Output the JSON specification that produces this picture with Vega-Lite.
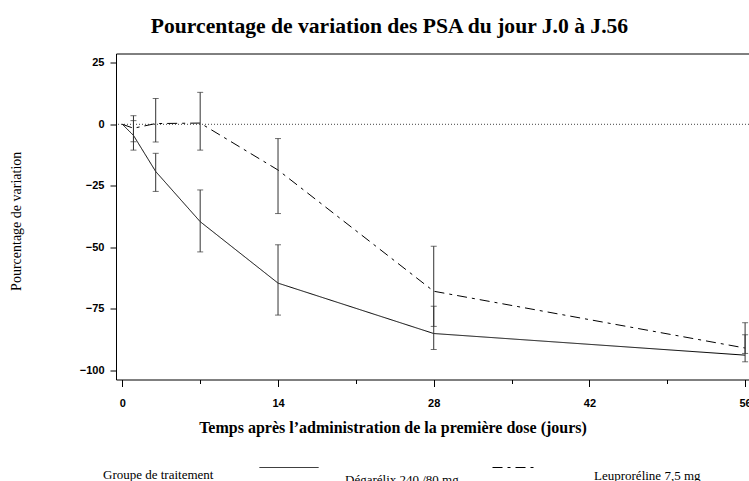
{
  "$schema": "https://vega.github.io/schema/vega-lite/v6.json",
  "autosize": {"type": "none"},
  "width": 633,
  "height": 326,
  "padding": {"left": 116, "top": 53.5, "right": 0, "bottom": 101.5},
  "background": "white",
  "config": {"view": {"stroke": "black", "strokeWidth": 1}},
  "title": {"text": "Pourcentage de variation des PSA du jour J.0 à J.56", "font": "Liberation Serif", "fontSize": 21.6, "fontWeight": "bold", "color": "black", "anchor": "middle", "dx": -43, "offset": 16},
  "datasets": {
    "psa": [
      {"group": "Dégarélix 240 /80 mg", "day": 0, "mean": 0, "lo": null, "hi": null},
      {"group": "Dégarélix 240 /80 mg", "day": 1, "mean": -4.5, "lo": -10.5, "hi": 1.5},
      {"group": "Dégarélix 240 /80 mg", "day": 3, "mean": -19.2, "lo": -27.3, "hi": -11.8},
      {"group": "Dégarélix 240 /80 mg", "day": 7, "mean": -39.6, "lo": -51.9, "hi": -26.7},
      {"group": "Dégarélix 240 /80 mg", "day": 14, "mean": -64.6, "lo": -77.6, "hi": -49.0},
      {"group": "Dégarélix 240 /80 mg", "day": 28, "mean": -85.1, "lo": -91.6, "hi": -74.0},
      {"group": "Dégarélix 240 /80 mg", "day": 56, "mean": -93.9, "lo": -96.6, "hi": -85.6},
      {"group": "Leuproréline 7,5 mg", "day": 0, "mean": 0, "lo": null, "hi": null},
      {"group": "Leuproréline 7,5 mg", "day": 1, "mean": -1.6, "lo": -7.1, "hi": 3.5},
      {"group": "Leuproréline 7,5 mg", "day": 3, "mean": 0.3, "lo": -7.2, "hi": 10.5},
      {"group": "Leuproréline 7,5 mg", "day": 7, "mean": 0.5, "lo": -10.5, "hi": 13.0},
      {"group": "Leuproréline 7,5 mg", "day": 14, "mean": -18.6, "lo": -36.3, "hi": -5.8},
      {"group": "Leuproréline 7,5 mg", "day": 28, "mean": -67.9, "lo": -82.2, "hi": -49.6},
      {"group": "Leuproréline 7,5 mg", "day": 56, "mean": -91.0, "lo": -93.2, "hi": -80.7}
    ],
    "ref": [{"zero": 0}]
  },
  "layer": [
    {
      "data": {"name": "psa"},
      "transform": [{"filter": "datum.group === 'Dégarélix 240 /80 mg'"}],
      "mark": {"type": "line", "color": "black", "strokeWidth": 1},
      "encoding": {
        "x": {"field": "day", "type": "quantitative", "title": "Temps après l’administration de la première dose (jours)", "scale": {"domain": [-0.57, 56.35], "nice": false, "zero": false},
          "axis": {"values": [0, 7, 14, 21, 28, 35, 42, 49, 56], "labelExpr": "datum.value % 14 === 0 ? datum.label : ''", "labelOverlap": false,
            "tickSize": {"condition": {"test": "datum.value % 14 === 0", "value": 7}, "value": 4},
            "tickColor": "black", "domain": false, "grid": false, "labelFont": "Liberation Sans", "labelFontSize": 11, "labelFontWeight": "bold", "labelColor": "black", "labelPadding": 11,
            "titleFont": "Liberation Serif", "titleFontSize": 16, "titleFontWeight": "bold", "titleColor": "black", "titleX": 276.5, "titleY": 53.2, "titleBaseline": "alphabetic", "titleAlign": "center"}},
        "y": {"field": "mean", "type": "quantitative", "title": "Pourcentage de variation", "scale": {"domain": [-103.8, 28.8], "nice": false, "zero": false},
          "axis": {"values": [25, 12.5, 0, -12.5, -25, -37.5, -50, -62.5, -75, -87.5, -100], "labelExpr": "datum.value % 25 === 0 ? datum.label : ''", "labelOverlap": false,
            "tickSize": {"condition": {"test": "datum.value % 25 === 0", "value": 6}, "value": 3},
            "tickColor": "black", "domain": false, "grid": false, "labelFont": "Liberation Sans", "labelFontSize": 11, "labelFontWeight": "bold", "labelColor": "black", "labelPadding": 6,
            "titleFont": "Liberation Serif", "titleFontSize": 14, "titleFontWeight": "normal", "titleColor": "black", "titleX": -99.5, "titleY": 167.3, "titleAngle": 270, "titleBaseline": "middle", "titleAlign": "center"}},
        "strokeDash": {"field": "group", "type": "nominal", "scale": {"domain": ["Dégarélix 240 /80 mg"], "range": [[1, 0]]},
          "legend": {"orient": "none", "legendX": -13, "legendY": 384, "direction": "horizontal", "title": "Groupe de traitement", "titleOrient": "left", "titleFont": "Liberation Serif", "titleFontSize": 13, "titleFontWeight": "normal", "titleColor": "black", "titlePadding": 45, "symbolType": "stroke", "symbolSize": 3481, "symbolStrokeWidth": 1, "symbolStrokeColor": "black", "labelFont": "Liberation Serif", "labelFontSize": 13, "labelColor": "black", "labelOffset": 26, "labelLimit": 300,
            "encode": {"labels": {"update": {"dy": {"value": 12}}}, "title": {"update": {"dy": {"value": 12}}}}}}
      }
    },
    {
      "data": {"name": "ref"},
      "mark": {"type": "rule", "strokeDash": [1, 2], "color": "#444", "strokeWidth": 1},
      "encoding": {
        "y": {"field": "zero", "type": "quantitative", "title": "Pourcentage de variation", "scale": {"domain": [-103.8, 28.8], "nice": false, "zero": false}}
      }
    },
    {
      "data": {"name": "psa"},
      "transform": [{"filter": "datum.group === 'Leuproréline 7,5 mg'"}],
      "mark": {"type": "line", "color": "black", "strokeWidth": 1},
      "encoding": {
        "x": {"field": "day", "type": "quantitative", "title": "Temps après l’administration de la première dose (jours)", "scale": {"domain": [-0.57, 56.35], "nice": false, "zero": false}},
        "y": {"field": "mean", "type": "quantitative", "title": "Pourcentage de variation", "scale": {"domain": [-103.8, 28.8], "nice": false, "zero": false}},
        "strokeDash": {"field": "group", "type": "nominal", "scale": {"domain": ["Leuproréline 7,5 mg"], "range": [[10, 5, 3, 5]]},
          "legend": {"orient": "none", "legendX": 376, "legendY": 393, "direction": "horizontal", "title": null, "symbolType": "stroke", "symbolSize": 1681, "symbolStrokeWidth": 1, "symbolStrokeColor": "black", "labelFont": "Liberation Serif", "labelFontSize": 13, "labelColor": "black", "labelOffset": 60, "labelLimit": 300,
            "encode": {"labels": {"update": {"dy": {"value": 8}}}}}}
      }
    },
    {
      "data": {"name": "psa"},
      "transform": [{"filter": "datum.lo != null"}],
      "mark": {"type": "errorbar", "thickness": 1, "ticks": {"size": 6, "color": "#333"}, "rule": {"color": "#333"}},
      "encoding": {
        "x": {"field": "day", "type": "quantitative", "title": "Temps après l’administration de la première dose (jours)", "scale": {"domain": [-0.57, 56.35], "nice": false, "zero": false}},
        "y": {"field": "lo", "type": "quantitative", "title": "Pourcentage de variation", "scale": {"domain": [-103.8, 28.8], "nice": false, "zero": false}},
        "y2": {"field": "hi"}
      }
    }
  ],
  "resolve": {"scale": {"strokeDash": "independent"}, "legend": {"strokeDash": "independent"}}
}
